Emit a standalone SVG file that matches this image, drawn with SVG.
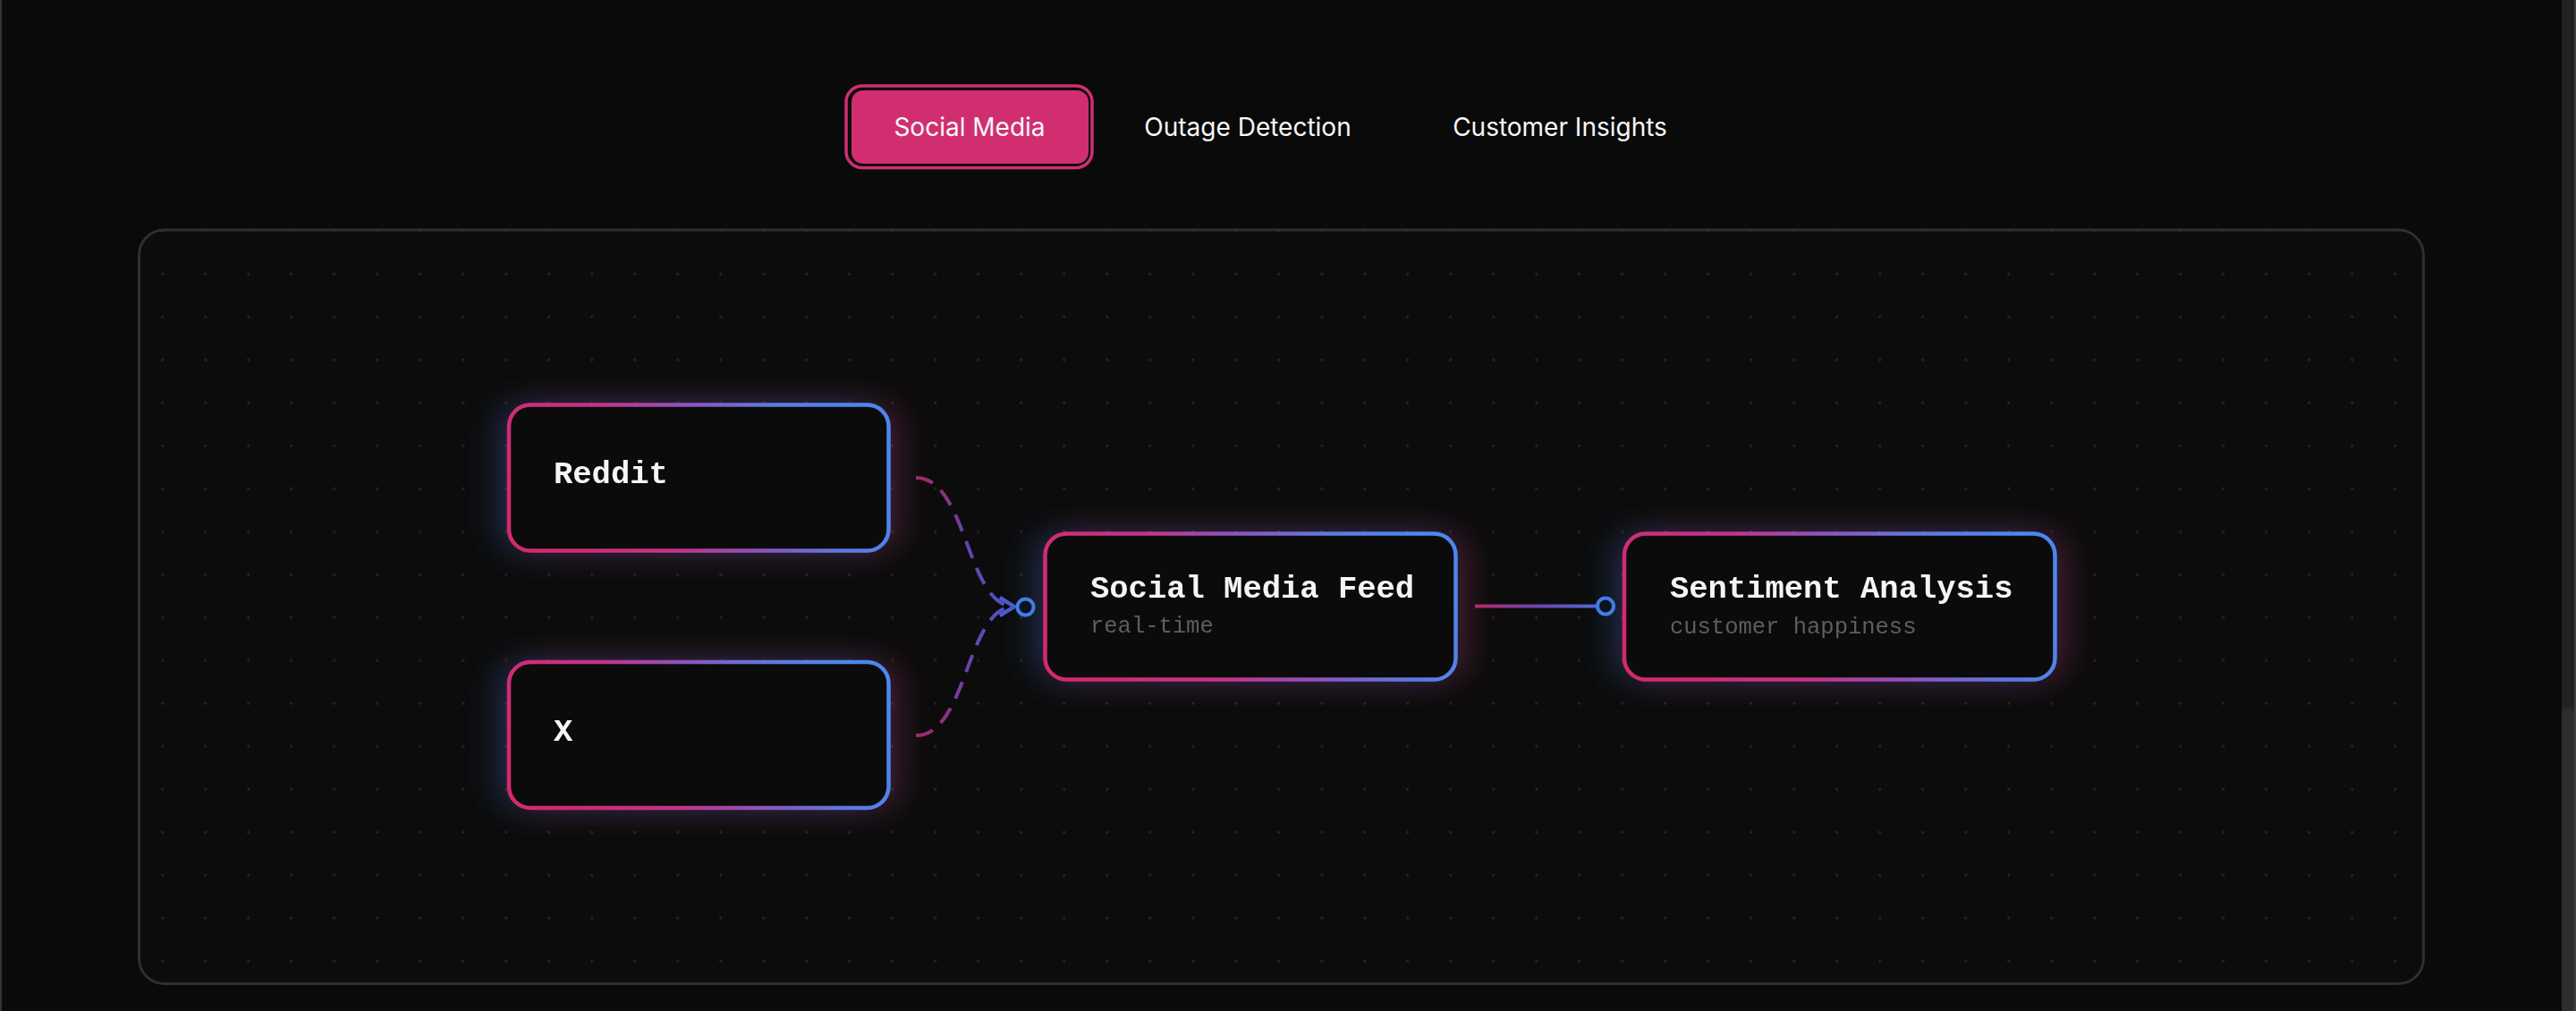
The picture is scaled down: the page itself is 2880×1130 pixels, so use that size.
<svg xmlns="http://www.w3.org/2000/svg" width="2880" height="1130" viewBox="0 0 2880 1130">
  <defs>
    <style>
      .tab { font-family: Inter, "Liberation Sans", Arial, sans-serif; font-size: 28px; fill: #f7f7f7; text-anchor: middle; }
      .node-box { fill: #0b0b0b; stroke-width: 4.5; }
      .title { font-family: "Liberation Mono", "Courier New", monospace; font-weight: bold; font-size: 35.5px; fill: #f5f5f5; }
      .sub { font-family: "Liberation Mono", "Courier New", monospace; font-size: 25.5px; fill: #5e5e5e; }
      .glow-b { fill: #3b82f6; opacity: 0.24; }
      .glow-p { fill: #ec4899; opacity: 0.22; }
      .edge { fill: none; stroke-width: 4; }
      .handle { fill: #0c1220; stroke: #3f7ee6; stroke-width: 4; }
    </style>
    <pattern id="dots" x="157.7" y="234.3" width="48" height="48" patternUnits="userSpaceOnUse">
      <circle cx="24" cy="24" r="1.4" fill="#2a2a2a"/>
    </pattern>
    <linearGradient id="border" x1="0" y1="0.6" x2="1" y2="0.4">
      <stop offset="0" stop-color="#d42a6c"/>
      <stop offset="0.35" stop-color="#c4338a"/>
      <stop offset="0.55" stop-color="#8f52bc"/>
      <stop offset="0.8" stop-color="#5a7ce2"/>
      <stop offset="1" stop-color="#4a88f0"/>
    </linearGradient>
    <filter id="blur" x="-30%" y="-60%" width="160%" height="220%">
      <feGaussianBlur stdDeviation="18"/>
    </filter>
    <linearGradient id="e1" gradientUnits="userSpaceOnUse" x1="1024" y1="534" x2="1134" y2="678">
      <stop offset="0" stop-color="#a0286e"/>
      <stop offset="0.45" stop-color="#6c40a8"/>
      <stop offset="1" stop-color="#4a56c4"/>
    </linearGradient>
    <linearGradient id="e2" gradientUnits="userSpaceOnUse" x1="1024" y1="822" x2="1134" y2="678">
      <stop offset="0" stop-color="#a0286e"/>
      <stop offset="0.45" stop-color="#6c40a8"/>
      <stop offset="1" stop-color="#4a56c4"/>
    </linearGradient>
    <linearGradient id="e3" gradientUnits="userSpaceOnUse" x1="1649" y1="0" x2="1787" y2="0">
      <stop offset="0" stop-color="#b42a6a"/>
      <stop offset="0.5" stop-color="#6e44ac"/>
      <stop offset="1" stop-color="#4a6cd6"/>
    </linearGradient>
    <marker id="arrow" markerUnits="userSpaceOnUse" viewBox="-20 -14 24 28" refX="0" refY="0" markerWidth="24" markerHeight="28" orient="auto" overflow="visible">
      <path d="M-16,-10 L0,0 L-16,10" fill="none" stroke="#4a5cc8" stroke-width="4"/>
    </marker>
  </defs>

  <!-- page background -->
  <rect x="0" y="0" width="2880" height="1130" fill="#0a0a0a"/>
  <rect x="0" y="0" width="2" height="1130" fill="#333333"/>
  <rect x="2864" y="0" width="16" height="1130" fill="#222222"/>
  <rect x="2864" y="791" width="14" height="345" rx="7" fill="#2d2d2d"/>
  <rect x="2878" y="0" width="2" height="1130" fill="#404040"/>

  <!-- tabs -->
  <g id="tab-social-media">
    <rect x="946" y="96" width="275" height="91.5" rx="18" fill="none" stroke="#d12e72" stroke-width="3.5"/>
    <rect x="952" y="101" width="265" height="82" rx="13" fill="#d12e72"/>
    <text class="tab" x="1084" y="151.5">Social Media</text>
  </g>
  <g id="tab-outage-detection">
    <text class="tab" x="1395" y="151.5">Outage Detection</text>
  </g>
  <g id="tab-customer-insights">
    <text class="tab" x="1744" y="151.5">Customer Insights</text>
  </g>

  <!-- canvas container -->
  <g id="canvas">
    <rect x="155.5" y="257" width="2554" height="842.5" rx="28" fill="#0c0c0c"/>
    <rect x="155.5" y="257" width="2554" height="842.5" rx="28" fill="url(#dots)"/>
    <rect x="155.5" y="257" width="2554" height="842.5" rx="28" fill="none" stroke="#2f2f2f" stroke-width="3"/>
  </g>

  <!-- glows -->
  <g id="glows" filter="url(#blur)">
    <rect class="glow-b" x="555" y="452.5" width="424.5" height="163" rx="24"/>
    <rect class="glow-p" x="583" y="452.5" width="424.5" height="163" rx="24"/>
    <rect class="glow-b" x="555" y="740" width="424.5" height="163" rx="24"/>
    <rect class="glow-p" x="583" y="740" width="424.5" height="163" rx="24"/>
    <rect class="glow-b" x="1154.5" y="596.5" width="459" height="163" rx="24"/>
    <rect class="glow-p" x="1182.5" y="596.5" width="459" height="163" rx="24"/>
    <rect class="glow-b" x="1802" y="596.5" width="481.5" height="163" rx="24"/>
    <rect class="glow-p" x="1830" y="596.5" width="481.5" height="163" rx="24"/>
  </g>

  <!-- connectors -->
  <g id="connectors">
    <path class="edge" d="M1024,534 C1082,534 1080,678 1134,678" stroke="url(#e1)" stroke-dasharray="20 12" marker-end="url(#arrow)"/>
    <path class="edge" d="M1024,822 C1082,822 1080,678 1134,678" stroke="url(#e2)" stroke-dasharray="20 12" marker-end="url(#arrow)"/>
    <line class="edge" x1="1649" y1="677.5" x2="1786" y2="677.5" stroke="url(#e3)"/>
    <circle class="handle" cx="1146.5" cy="678.5" r="9"/>
    <circle class="handle" cx="1795" cy="677.5" r="9"/>
  </g>

  <!-- nodes -->
  <g id="node-reddit">
    <rect class="node-box" x="569" y="452.5" width="424.5" height="163" rx="24" stroke="url(#border)"/>
    <text class="title" x="619" y="540">Reddit</text>
  </g>
  <g id="node-x">
    <rect class="node-box" x="569" y="740" width="424.5" height="163" rx="24" stroke="url(#border)"/>
    <text class="title" x="619" y="828">X</text>
  </g>
  <g id="node-social-media-feed">
    <rect class="node-box" x="1168.5" y="596.5" width="459" height="163" rx="24" stroke="url(#border)"/>
    <text class="title" x="1219" y="668">Social Media Feed</text>
    <text class="sub" x="1219" y="707">real-time</text>
  </g>
  <g id="node-sentiment-analysis">
    <rect class="node-box" x="1816" y="596.5" width="481.5" height="163" rx="24" stroke="url(#border)"/>
    <text class="title" x="1867" y="668">Sentiment Analysis</text>
    <text class="sub" x="1867" y="707.5">customer happiness</text>
  </g>
</svg>
